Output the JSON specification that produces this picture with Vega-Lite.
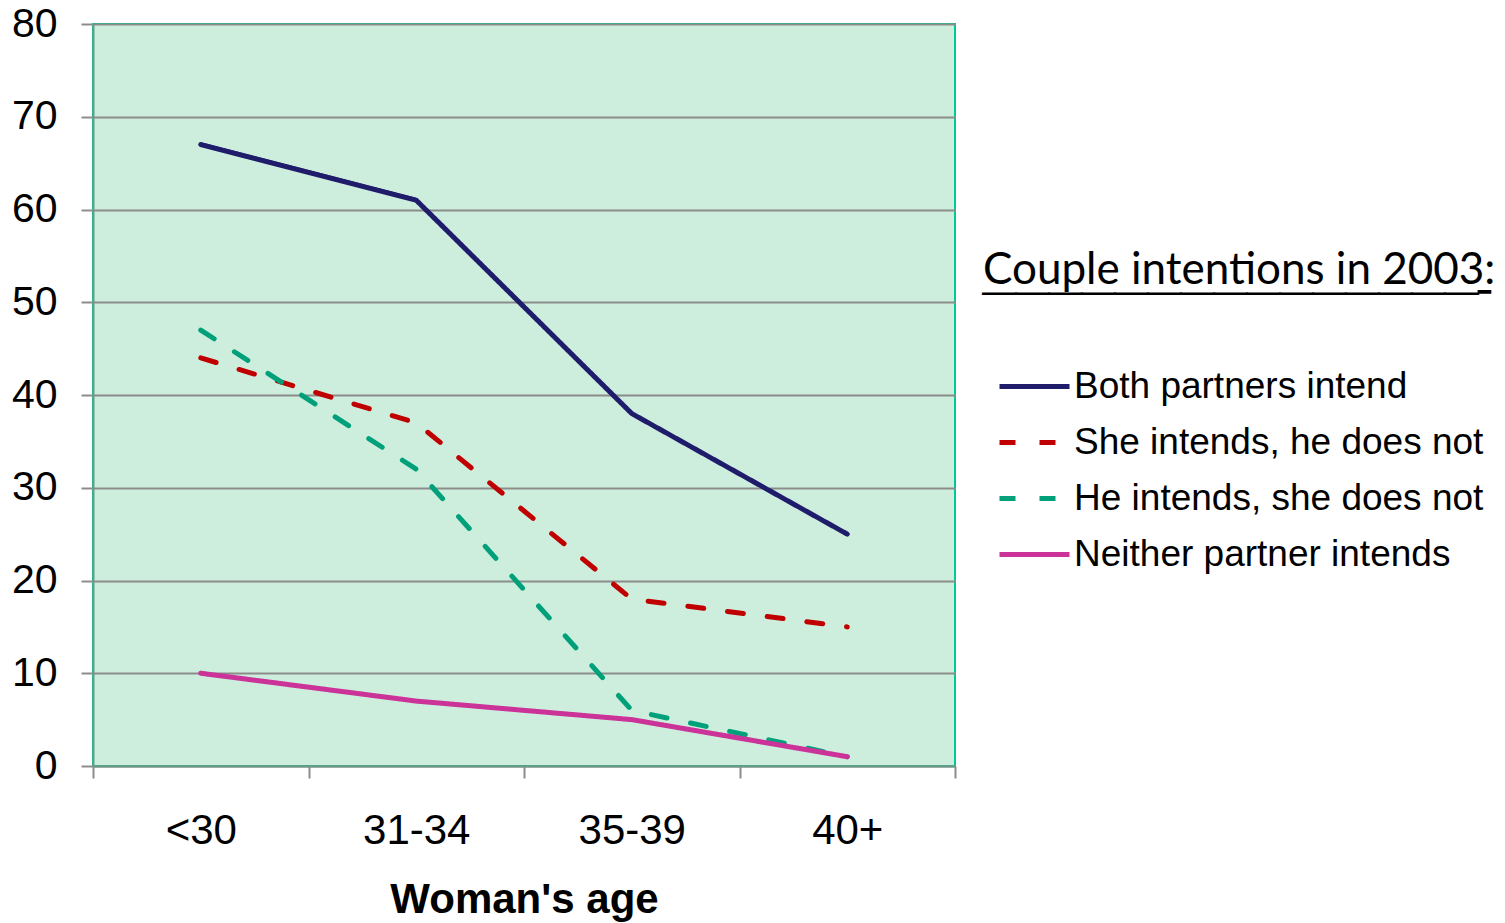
{
  "$schema": "https://vega.github.io/schema/vega-lite/v6.json",
  "width": 862,
  "height": 742,
  "autosize": "none",
  "padding": {"left": 93, "top": 24, "right": 550, "bottom": 157},
  "background": "white",
  "data": {
    "values": [
      {"age": "<30", "series": "Both partners intend", "value": 67},
      {"age": "31-34", "series": "Both partners intend", "value": 61},
      {"age": "35-39", "series": "Both partners intend", "value": 38},
      {"age": "40+", "series": "Both partners intend", "value": 25},
      {"age": "<30", "series": "She intends, he does not", "value": 44},
      {"age": "31-34", "series": "She intends, he does not", "value": 37},
      {"age": "35-39", "series": "She intends, he does not", "value": 18},
      {"age": "40+", "series": "She intends, he does not", "value": 15},
      {"age": "<30", "series": "He intends, she does not", "value": 47},
      {"age": "31-34", "series": "He intends, she does not", "value": 32},
      {"age": "35-39", "series": "He intends, she does not", "value": 6},
      {"age": "40+", "series": "He intends, she does not", "value": 1},
      {"age": "<30", "series": "Neither partner intends", "value": 10},
      {"age": "31-34", "series": "Neither partner intends", "value": 7},
      {"age": "35-39", "series": "Neither partner intends", "value": 5},
      {"age": "40+", "series": "Neither partner intends", "value": 1}
    ]
  },
  "mark": {"type": "line", "strokeWidth": 5, "strokeCap": "round", "strokeJoin": "round"},
  "encoding": {
    "x": {
      "field": "age",
      "type": "nominal",
      "sort": ["<30", "31-34", "35-39", "40+"],
      "scale": {"type": "band", "paddingInner": 0, "paddingOuter": 0},
      "axis": {
        "title": "Woman's age",
        "titleFont": "Liberation Sans",
        "titleFontSize": 42,
        "titleFontWeight": "bold",
        "titleColor": "black",
        "titlePadding": 28,
        "labelAngle": 0,
        "labelFont": "Liberation Sans",
        "labelFontSize": 42,
        "labelColor": "black",
        "labelPadding": 32,
        "tickBand": "extent",
        "tickSize": 12,
        "tickColor": "#8c8c8c",
        "tickWidth": 2,
        "domainColor": "#6a9a8a",
        "domainWidth": 2,
        "grid": false
      }
    },
    "y": {
      "field": "value",
      "type": "quantitative",
      "scale": {"domain": [0, 80]},
      "axis": {
        "title": null,
        "values": [0, 10, 20, 30, 40, 50, 60, 70, 80],
        "labelFont": "Liberation Sans",
        "labelFontSize": 41,
        "labelColor": "black",
        "labelPadding": 24,
        "tickSize": 12,
        "tickColor": "#8c8c8c",
        "tickWidth": 2,
        "domainColor": "#6a9a8a",
        "domainWidth": 2,
        "grid": true,
        "gridColor": "#8c8c8c",
        "gridWidth": 2
      }
    },
    "color": {
      "field": "series",
      "type": "nominal",
      "sort": ["Both partners intend", "She intends, he does not", "He intends, she does not", "Neither partner intends"],
      "scale": {
        "domain": ["Both partners intend", "She intends, he does not", "He intends, she does not", "Neither partner intends"],
        "range": ["#1f1c6b", "#c00000", "#00a07a", "#cc3399"]
      },
      "legend": {"title": ["Couple intentions in 2003:", "───────────────╴"]}
    },
    "strokeDash": {
      "field": "series",
      "type": "nominal",
      "sort": ["Both partners intend", "She intends, he does not", "He intends, she does not", "Neither partner intends"],
      "scale": {
        "domain": ["Both partners intend", "She intends, he does not", "He intends, she does not", "Neither partner intends"],
        "range": [[1, 0], [16, 24], [16, 24], [1, 0]]
      },
      "legend": {"title": ["Couple intentions in 2003:", "───────────────╴"]}
    }
  },
  "config": {
    "view": {"fill": "#cdeedd", "stroke": "#00c896", "strokeWidth": 2},
    "legend": {
      "orient": "none",
      "legendX": 890,
      "legendY": 225,
      "titleFont": "Lato",
      "titleFontSize": 44,
      "titleFontWeight": "normal",
      "titleColor": "black",
      "titleLineHeight": 23,
      "titlePadding": 33,
      "titleLimit": 800,
      "labelFont": "Liberation Sans",
      "labelFontSize": 37,
      "labelColor": "black",
      "labelLimit": 800,
      "labelOffset": 2,
      "symbolType": "stroke",
      "symbolSize": 4900,
      "symbolStrokeWidth": 5,
      "symbolOffset": 14,
      "rowPadding": -13,
      "padding": 0
    }
  }
}
